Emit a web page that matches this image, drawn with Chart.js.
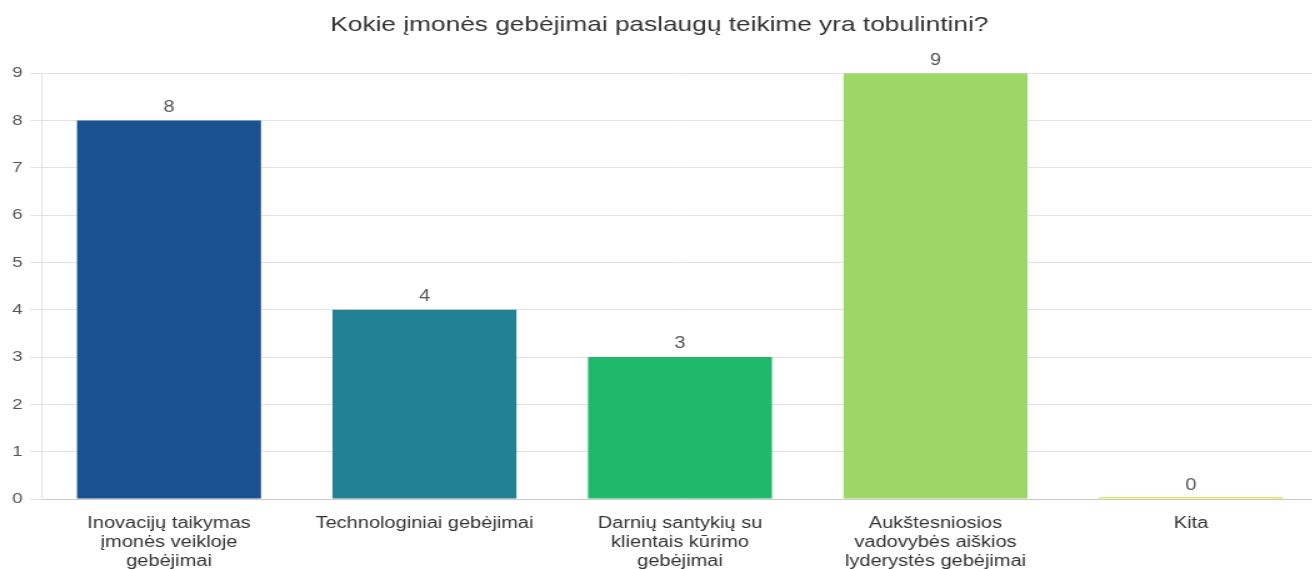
<!DOCTYPE html>
<html>
<head>
<meta charset="utf-8">
<script src="https://cdn.jsdelivr.net/npm/chart.js@4/dist/chart.umd.min.js"></script>
<style>
  html, body { margin: 0; padding: 0; background: #fff; overflow: hidden; }
  /* chart is drawn narrow and stretched sideways */
  #wrap { width: 1056px; height: 569px; transform: scaleX(1.25); transform-origin: 0 0; }
</style>
</head>
<body>
<div id="wrap"><canvas id="chart" width="1056" height="569"></canvas></div>
<script>
const titleText = "Kokie įmonės gebėjimai paslaugų teikime yra tobulintini?";

const categories = [
    ["Inovacijų taikymas", "įmonės veikloje", "gebėjimai"],
    ["Technologiniai gebėjimai"],
    ["Darnių santykių su", "klientais kūrimo", "gebėjimai"],
    ["Aukštesniosios", "vadovybės aiškios", "lyderystės gebėjimai"],
    ["Kita"],
];
const counts = [8, 4, 3, 9, 0];
const barColors = ["#1a5191", "#238196", "#1fb96c", "#9dd765", "#d9ec5c"];

const FONT = "Arial, 'Liberation Sans', sans-serif";

// value written above each bar
const valueLabels = {
    id: "valueLabels",
    afterDatasetsDraw(chart) {
        const ctx = chart.ctx;
        const yScale = chart.scales.y;
        ctx.save();
        ctx.font = `16px ${FONT}`;
        ctx.fillStyle = "#555";
        ctx.textAlign = "center";
        ctx.textBaseline = "middle";
        chart.getDatasetMeta(0).data.forEach((bar, i) => {
            const v = counts[i];
            ctx.fillText(String(v), bar.x, yScale.getPixelForValue(v) - 13);
        });
        ctx.restore();
    },
};

new Chart(document.getElementById("chart"), {
    type: "bar",
    data: {
        labels: categories,
        datasets: [
            {
                data: counts,
                backgroundColor: barColors,
                borderWidth: 0,
                barPercentage: 0.72,
                categoryPercentage: 1,
                minBarLength: 2,
            },
        ],
    },
    options: {
        responsive: false,
        animation: false,
        layout: { padding: { left: 0, right: 1, top: 0, bottom: 0 } },
        plugins: {
            legend: { display: false },
            tooltip: { enabled: false },
            title: {
                display: true,
                text: titleText,
                color: "#333",
                font: { family: FONT, size: 21, weight: "normal", lineHeight: 1.2 },
                padding: { top: 13, bottom: 35 },
            },
        },
        scales: {
            x: {
                grid: { display: false, drawTicks: false },
                border: { display: true, color: "#c8c8c8", width: 1 },
                ticks: {
                    color: "#333",
                    padding: 15,
                    maxRotation: 0,
                    autoSkip: false,
                    font: { family: FONT, size: 16, lineHeight: 1.2 },
                },
                afterFit: (scale) => { scale.height = 70; },
            },
            y: {
                min: 0,
                max: 9,
                grid: { color: "#e3e3e3", tickLength: 9 },
                border: { display: true, color: "#e3e3e3" },
                ticks: {
                    stepSize: 1,
                    color: "#555",
                    padding: 6,
                    font: { family: FONT, size: 15 },
                },
                afterFit: (scale) => { scale.width = 33; },
            },
        },
    },
    plugins: [valueLabels],
});
</script>
</body>
</html>
